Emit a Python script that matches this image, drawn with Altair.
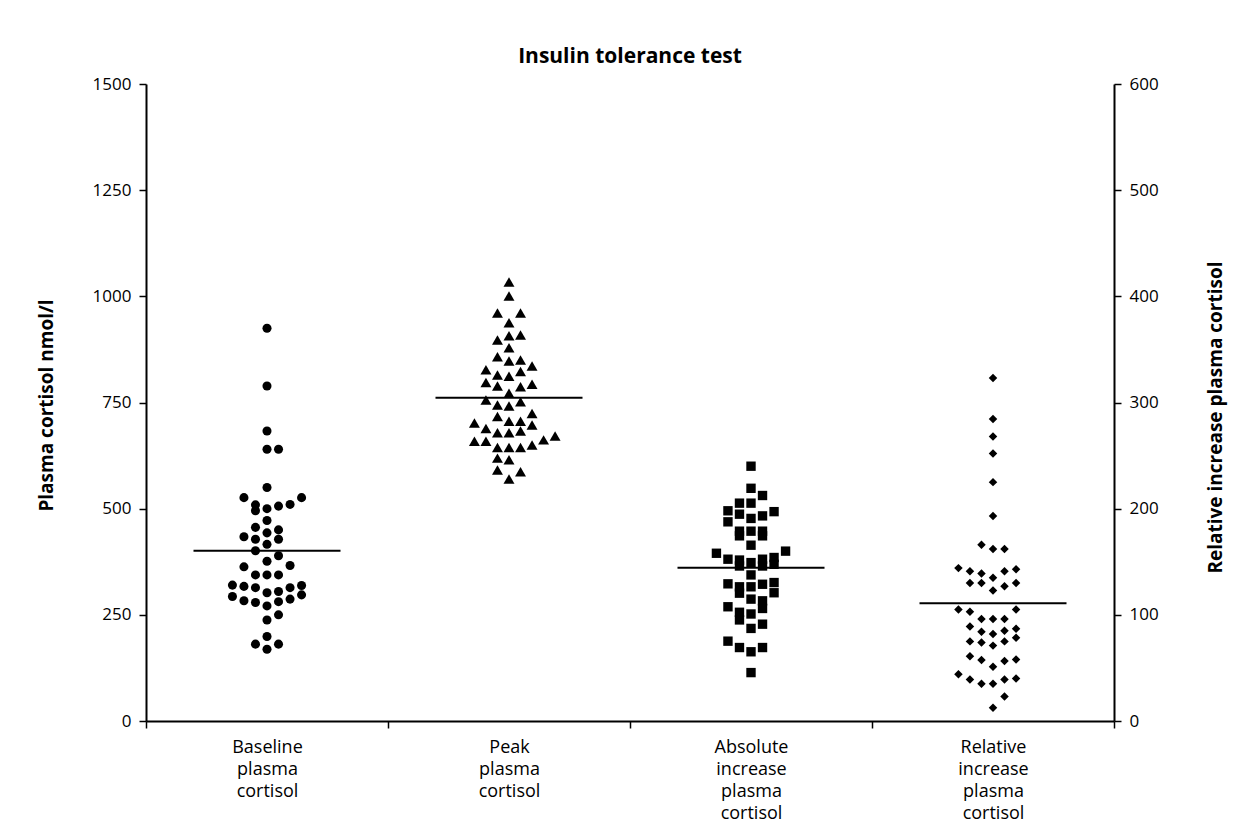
import altair as alt
import pandas as pd

FONT = "Open Sans"

groups = [
    "Baseline plasma cortisol",
    "Peak plasma cortisol",
    "Absolute increase plasma cortisol",
    "Relative increase plasma cortisol",
]

# values; slot = beeswarm column (0 = centre)
baseline_values = [925, 789, 683, 640, 640, 550, 526, 526, 509, 506, 510, 495, 500, 472, 456, 450,
                   443, 434, 428, 428, 416, 401, 389, 376, 363, 366, 344, 344, 344,
                   320, 317, 314, 302, 305, 314, 319,
                   293, 283, 279, 271, 281, 287, 297,
                   238, 250, 199, 181, 181, 169]
baseline_slots = [0, 0, 0, 0, 1, 0, -2, 3, -1, 1, 2, -1, 0, 0, -1, 1,
                  0, -2, -1, 1, 0, -1, 1, 0, -2, 2, -1, 0, 1,
                  -3, -2, -1, 0, 1, 2, 3,
                  -3, -2, -1, 0, 1, 2, 3,
                  0, 1, 0, -1, 1, 0]

peak_values = [1034, 1001, 961, 961, 938, 907, 909, 897, 879, 858, 848, 850, 836, 827, 815, 812,
               823, 797, 789, 787, 793, 772, 756, 744, 742, 752, 724, 717, 706, 706, 697, 702,
               689, 679, 679, 683, 659, 659, 662, 671, 644, 644, 644, 650, 619, 615, 591, 587, 570]
peak_slots = [0, 0, -1, 1, 0, 0, 1, -1, 0, -1, 0, 1, 2, -2, -1, 0,
              1, -2, -1, 1, 2, 0, -2, -1, 0, 1, 2, -1, 0, 1, 2, -3,
              -2, -1, 0, 1, -3, -2, 3, 4, -1, 0, 1, 2, -1, 0, -1, 1, 0]

absolute_values = [600, 548, 531, 513, 513, 495, 487, 477, 483, 493, 469, 447, 447, 447, 436, 436,
                   414, 395, 400, 381, 379, 373, 381, 385, 365, 365, 369, 344, 323, 316, 316, 322,
                   326, 301, 302, 287, 283, 269, 256, 252, 265, 238, 218, 228, 188, 173, 163, 173, 114]
absolute_slots = [0, 0, 1, -1, 0, -2, -1, 0, 1, 2, -2, -1, 0, 1, -1, 1,
                  0, -3, 3, -2, -1, 0, 1, 2, -1, 1, 2, 0, -2, -1, 0, 1,
                  2, -1, 2, 0, 1, -2, -1, 0, 1, -1, 0, 1, -2, -1, 0, 1, 0]

relative_values = [323, 284.5, 268, 252, 225, 193, 166, 162, 162,
                   144, 141, 139, 135, 141, 143,
                   130, 130, 123, 127, 130,
                   105, 103, 105,
                   96, 96, 96,
                   89, 84, 82, 85, 87, 78.5,
                   75, 74, 71, 75,
                   61, 57.5, 51, 56.5, 58,
                   44, 39, 35, 35, 39, 40,
                   23, 12.5]
relative_slots = [0, 0, 0, 0, 0, 0, -1, 0, 1,
                  -3, -2, -1, 0, 1, 2,
                  -2, -1, 0, 1, 2,
                  -3, -2, 2,
                  -1, 0, 1,
                  -2, -1, 0, 1, 2, 2,
                  -2, -1, 0, 1,
                  -2, -1, 0, 1, 2,
                  -3, -2, -1, 0, 1, 2,
                  1, 0]

centre_values = [401, 761, 361, 111]

left_ticks = [0, 250, 500, 750, 1000, 1250, 1500]
right_ticks = [0, 100, 200, 300, 400, 500, 600]

rows = []
for g, vals, slots in zip(groups,
                          [baseline_values, peak_values, absolute_values, relative_values],
                          [baseline_slots, peak_slots, absolute_slots, relative_slots]):
    for v, s in zip(vals, slots):
        rows.append({"group": g, "value": v, "slot": s})
df = pd.DataFrame(rows)
centres = pd.DataFrame({"group": groups, "value": centre_values})

x_enc = alt.X(
    "group:N",
    scale=alt.Scale(domain=groups, paddingInner=0, paddingOuter=0),
    title=None,
    axis=alt.Axis(
        labelExpr="split(datum.label, ' ')",
        tickBand="extent",
        labelAngle=0,
        labelFont=FONT,
        labelFontSize=18,
        labelLineHeight=22,
        labelPadding=10,
        labelBaseline="top",
        labelColor="black",
        tickSize=7,
        tickWidth=1.5,
        tickColor="black",
        domainWidth=2,
        domainColor="black",
        labelLimit=0,
    ),
)
xoff = alt.XOffset("slot:Q", scale=alt.Scale(domain=[-10.5, 10.5], range=[0, 242]), title=None)

common_axis = dict(
    grid=False,
    format="d",
    tickSize=7,
    tickWidth=1.5,
    tickColor="black",
    domainWidth=2,
    domainColor="black",
    labelFont=FONT,
    labelFontSize=17,
    labelColor="black",
    labelPadding=8,
    titleFont=FONT,
    titleFontSize=19,
    titleFontWeight="bold",
    titleColor="black",
    titleAngle=-90,
    titleAlign="center",
    titleBaseline="middle",
)

y_left = alt.Y(
    "value:Q",
    scale=alt.Scale(domain=[0, 1500], nice=False, zero=True),
    axis=alt.Axis(values=left_ticks, title="Plasma cortisol nmol/l", orient="left",
                  titleX=-100, titleY=321, **common_axis),
)
y_right = alt.Y(
    "value:Q",
    scale=alt.Scale(domain=[0, 600], nice=False, zero=True),
    axis=alt.Axis(values=right_ticks, title="Relative increase plasma cortisol", orient="right",
                  titleX=101, titleY=333, **common_axis),
)

base = alt.Chart(df)


def points(group, shape, size, y_enc):
    return base.transform_filter(alt.datum.group == group).mark_point(
        shape=shape, size=size, filled=True, color="black", opacity=1, strokeWidth=0
    ).encode(x=x_enc, xOffset=xoff, y=y_enc)


p1 = points(groups[0], "circle", 82, y_left)
p2 = points(groups[1], "triangle-up", 120, y_left)
p3 = points(groups[2], "square", 88, y_left)
p4 = points(groups[3], "diamond", 72, y_right)

tick_left = alt.Chart(centres).transform_filter(
    alt.datum.group != groups[3]
).mark_tick(color="black", thickness=2, size=147, opacity=1).encode(x=x_enc, y=y_left)
tick_right = alt.Chart(centres).transform_filter(
    alt.datum.group == groups[3]
).mark_tick(color="black", thickness=2, size=147, opacity=1).encode(x=x_enc, y=y_right)

left = alt.layer(p1, p2, p3, tick_left)
right = alt.layer(p4, tick_right)

chart = alt.layer(left, right).resolve_scale(y="independent").properties(
    width=968,
    height=637,
    title=alt.Title("Insulin tolerance test", font=FONT, fontSize=21, fontWeight="bold",
                    color="black", anchor="middle", offset=8),
    autosize=alt.AutoSizeParams(type="none"),
    padding={"left": 138, "top": 76, "right": 131, "bottom": 103},
).configure_view(strokeWidth=0)

chart.save("out.html", embed_options={"renderer": "svg", "actions": False})
